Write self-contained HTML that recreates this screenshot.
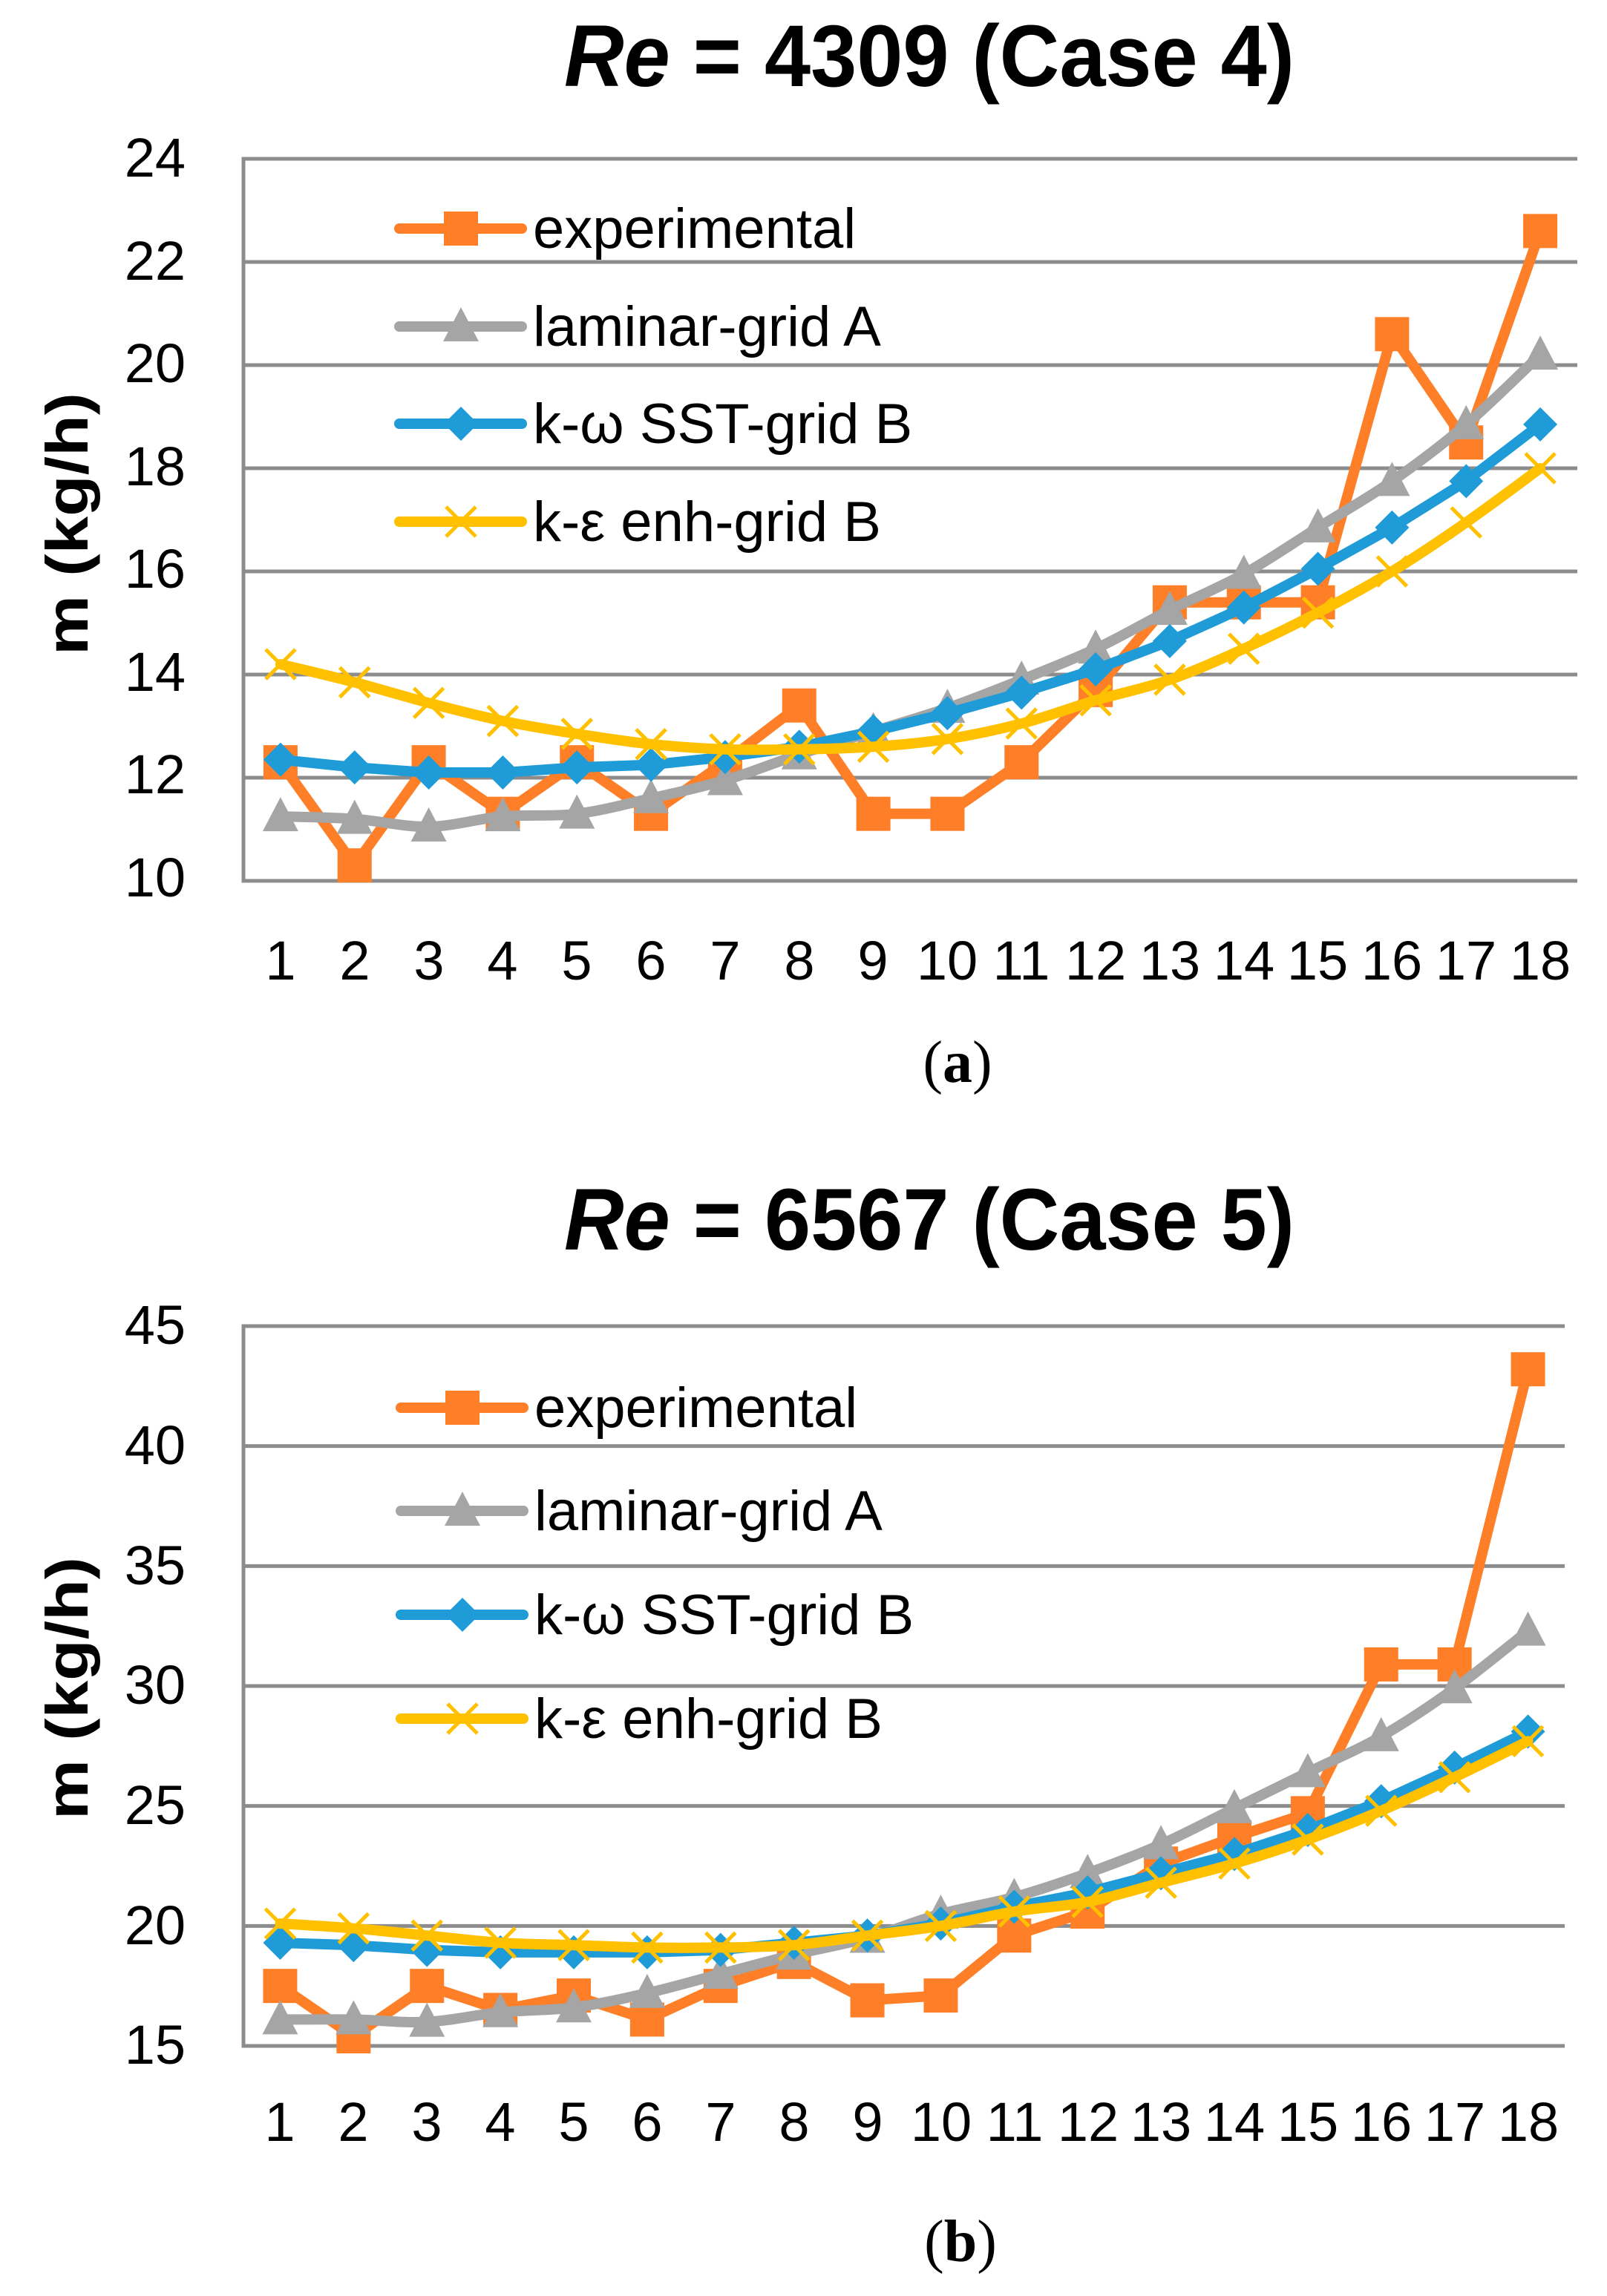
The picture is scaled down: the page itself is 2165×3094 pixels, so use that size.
<!DOCTYPE html>
<html><head><meta charset="utf-8"><style>
html,body{margin:0;padding:0;background:#fff}
svg{display:block}
</style></head><body>
<svg id="s" width="2165" height="3094" xmlns="http://www.w3.org/2000/svg" font-family="Liberation Sans, sans-serif">
<rect width="2165" height="3094" fill="#fff"/>
<text x="1252" y="116" font-size="118" font-weight="bold" text-anchor="middle" textLength="984" lengthAdjust="spacingAndGlyphs"><tspan font-style="italic">Re</tspan> = 4309 (Case 4)</text>
<text transform="translate(118,706) rotate(-90)" font-size="80" font-weight="bold" text-anchor="middle" textLength="354" lengthAdjust="spacingAndGlyphs">m (kg/h)</text>
<g font-size="74" text-anchor="end">
<text x="250" y="238">24</text><text x="250" y="377">22</text><text x="250" y="515">20</text><text x="250" y="654">18</text><text x="250" y="792">16</text><text x="250" y="931">14</text><text x="250" y="1069">12</text><text x="250" y="1208">10</text>
</g>
<g font-size="76">
<text x="718" y="334">experimental</text><text x="718" y="466">laminar-grid A</text><text x="718" y="597">k-ω SST-grid B</text><text x="718" y="729">k-ε enh-grid B</text>
</g>
<text x="1290" y="1458" font-family="Liberation Serif, serif" font-size="80" text-anchor="middle">(<tspan font-weight="bold">a</tspan>)</text>
<text x="1252" y="1684" font-size="118" font-weight="bold" text-anchor="middle" textLength="984" lengthAdjust="spacingAndGlyphs"><tspan font-style="italic">Re</tspan> = 6567 (Case 5)</text>
<text transform="translate(118,2275) rotate(-90)" font-size="80" font-weight="bold" text-anchor="middle" textLength="354" lengthAdjust="spacingAndGlyphs">m (kg/h)</text>
<g font-size="74" text-anchor="end">
<text x="250" y="1811">45</text><text x="250" y="1973">40</text><text x="250" y="2135">35</text><text x="250" y="2296">30</text><text x="250" y="2458">25</text><text x="250" y="2620">20</text><text x="250" y="2781">15</text>
</g>
<g font-size="76">
<text x="720" y="1923">experimental</text><text x="720" y="2062">laminar-grid A</text><text x="720" y="2202">k-ω SST-grid B</text><text x="720" y="2342">k-ε enh-grid B</text>
</g>
<text x="1294" y="3047" font-family="Liberation Serif, serif" font-size="80" text-anchor="middle">(<tspan font-weight="bold">b</tspan>)</text>
<g font-size="74" text-anchor="middle">
<text x="378" y="1320">1</text><text x="478" y="1320">2</text><text x="578" y="1320">3</text><text x="677" y="1320">4</text><text x="777" y="1320">5</text><text x="877" y="1320">6</text><text x="977" y="1320">7</text><text x="1077" y="1320">8</text><text x="1176" y="1320">9</text><text x="1276" y="1320">10</text><text x="1376" y="1320">11</text><text x="1476" y="1320">12</text><text x="1576" y="1320">13</text><text x="1676" y="1320">14</text><text x="1775" y="1320">15</text><text x="1875" y="1320">16</text><text x="1975" y="1320">17</text><text x="2075" y="1320">18</text>
<text x="377" y="2885">1</text><text x="476" y="2885">2</text><text x="575" y="2885">3</text><text x="674" y="2885">4</text><text x="773" y="2885">5</text><text x="872" y="2885">6</text><text x="971" y="2885">7</text><text x="1070" y="2885">8</text><text x="1169" y="2885">9</text><text x="1268" y="2885">10</text><text x="1367" y="2885">11</text><text x="1466" y="2885">12</text><text x="1564" y="2885">13</text><text x="1663" y="2885">14</text><text x="1762" y="2885">15</text><text x="1861" y="2885">16</text><text x="1960" y="2885">17</text><text x="2059" y="2885">18</text>
</g>
<g id="ga"></g><g id="gb"></g>
</svg>
<script>
var NS="http://www.w3.org/2000/svg";
function el(p,t,a){var e=document.createElementNS(NS,t);for(var k in a)e.setAttribute(k,a[k]);p.appendChild(e);return e;}
var C={o:"#FE7F27",g:"#A5A5A5",b:"#1F9CD8",y:"#FFC000"};
function marker(g,type,x,y){
 if(type=="o")el(g,"rect",{x:x-23,y:y-23,width:46,height:46,fill:C.o});
 else if(type=="g")el(g,"polygon",{points:(x)+","+(y-26)+" "+(x+24)+","+(y+20)+" "+(x-24)+","+(y+20),fill:C.g});
 else if(type=="b")el(g,"polygon",{points:x+","+(y-23)+" "+(x+23)+","+y+" "+x+","+(y+23)+" "+(x-23)+","+y,fill:C.b});
 else {el(g,"path",{d:"M"+(x-20)+","+(y-20)+"L"+(x+20)+","+(y+20)+"M"+(x+20)+","+(y-20)+"L"+(x-20)+","+(y+20),stroke:C.y,"stroke-width":5,fill:"none"});}
}
function smooth(p){var d="M"+p[0][0]+","+p[0][1];for(var i=0;i<p.length-1;i++){var p0=p[i-1]||p[i],p1=p[i],p2=p[i+1],p3=p[i+2]||p2;var t=6;d+="C"+(p1[0]+(p2[0]-p0[0])/t)+","+(p1[1]+(p2[1]-p0[1])/t)+" "+(p2[0]-(p3[0]-p1[0])/t)+","+(p2[1]-(p3[1]-p1[1])/t)+" "+p2[0]+","+p2[1];}return d;}
function chart(gid,L,R,T,B,ymin,ymax,step,data,legY,legX){
 var g=document.getElementById(gid);
 var n=(ymax-ymin)/step;
 for(var i=0;i<=n;i++){var y=T+(B-T)*i/n;el(g,"line",{x1:L,x2:R,y1:y,y2:y,stroke:"#8C8C8C","stroke-width":5});}
 el(g,"line",{x1:L,x2:L,y1:T-2.5,y2:B+2.5,stroke:"#8C8C8C","stroke-width":5});
 var w=(R-L)/18;
 var X=function(i){return L+w*(i+0.5)},Y=function(v){return B-(v-ymin)/(ymax-ymin)*(B-T)};
 ["o","g","b","y"].forEach(function(k,ki){
  var pts=data[k].map(function(v,i){return [X(i),Y(v)]});
  var d=(k=="o"||k=="b")?("M"+pts.map(function(p){return p.join(",")}).join("L")):smooth(pts);
  el(g,"path",{d:d,fill:"none",stroke:C[k],"stroke-width":14,"stroke-linejoin":"round","stroke-linecap":"round"});
  pts.forEach(function(p){marker(g,k,p[0],p[1]);});
  var ly=legY[ki];
  el(g,"line",{x1:legX,x2:legX+165,y1:ly,y2:ly,stroke:C[k],"stroke-width":14,"stroke-linecap":"round"});
  marker(g,k,legX+83,ly);
 });
}
chart("ga",328,2125,214,1187,10,24,2,{
 o:[12.3,10.3,12.3,11.3,12.3,11.3,12.3,13.4,11.3,11.3,12.3,13.7,15.4,15.4,15.4,20.6,18.5,22.6],
 g:[11.25,11.2,11.05,11.25,11.3,11.6,11.95,12.45,12.9,13.35,13.9,14.5,15.25,15.95,16.85,17.75,18.85,20.2],
 b:[12.35,12.2,12.1,12.1,12.2,12.25,12.4,12.6,12.9,13.25,13.65,14.1,14.65,15.3,16.05,16.85,17.75,18.85],
 y:[14.2,13.85,13.45,13.1,12.85,12.65,12.55,12.55,12.6,12.75,13.05,13.5,13.9,14.5,15.2,16.0,16.95,18.0]
},[308,440,571,703],538);
chart("gb",328,2108,1787,2757,15,45,5,{
 o:[17.5,15.4,17.5,16.5,17.1,16.1,17.5,18.5,16.9,17.1,19.6,20.6,22.6,23.7,24.7,30.9,30.9,43.2],
 g:[16.1,16.1,16.0,16.4,16.6,17.2,18.0,18.8,19.5,20.5,21.2,22.2,23.4,24.9,26.4,27.9,29.9,32.3],
 b:[19.3,19.2,19.0,18.9,18.9,18.9,19.0,19.3,19.6,20.1,20.8,21.4,22.2,23.0,24.0,25.2,26.6,28.1],
 y:[20.1,19.9,19.6,19.3,19.2,19.1,19.1,19.2,19.6,20.0,20.6,21.0,21.8,22.6,23.6,24.8,26.2,27.7]
},[1897,2036,2176,2316],540);
</script>
</body></html>
